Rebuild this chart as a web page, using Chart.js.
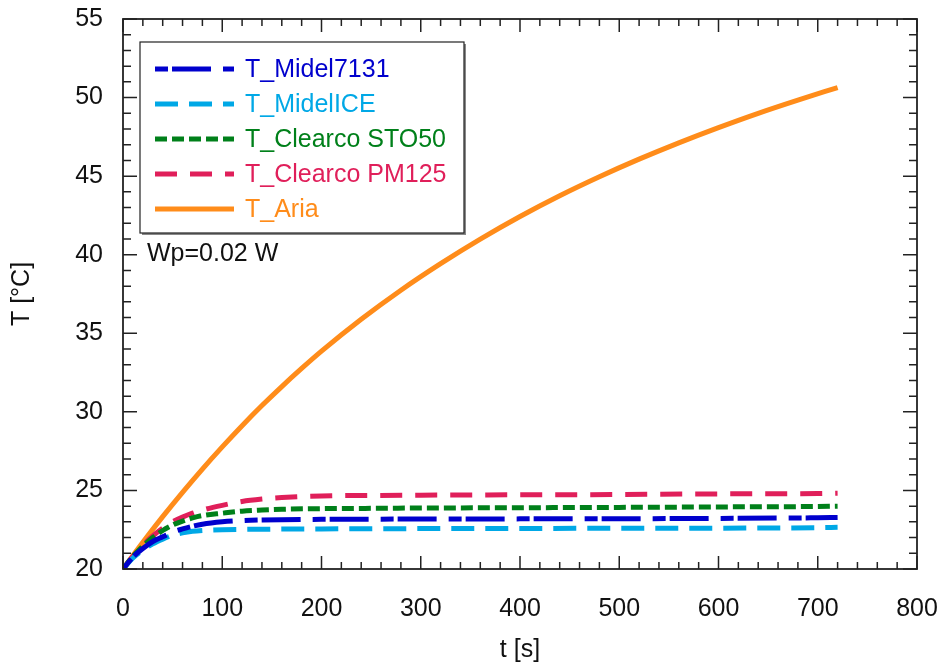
<!DOCTYPE html>
<html>
<head>
<meta charset="utf-8">
<script src="https://cdn.jsdelivr.net/npm/chart.js@4/dist/chart.umd.min.js"></script>
<style>
  html, body { margin: 0; padding: 0; background: #fff; }
  #wrap { width: 944px; height: 666px; }
</style>
</head>
<body>
<div id="wrap"><canvas id="chart" width="944" height="666"></canvas></div>
<script>
// time axis for the four oils (s)
const tOil = [0, 10, 20, 30, 40, 50, 60, 70, 80, 100, 120, 140, 160, 200, 250, 300, 400, 500, 600, 700, 720];
const tMidel7131 = [20, 20.75, 21.3, 21.75, 22.05, 22.35, 22.55, 22.72, 22.85, 23.0, 23.08, 23.12, 23.14, 23.16, 23.17, 23.18, 23.19, 23.2, 23.22, 23.26, 23.28];
const tMidelICE = [20, 20.7, 21.2, 21.6, 21.9, 22.15, 22.3, 22.4, 22.45, 22.5, 22.52, 22.53, 22.54, 22.55, 22.56, 22.57, 22.58, 22.59, 22.6, 22.63, 22.65];
const tSTO50 = [20, 20.8, 21.45, 22.0, 22.45, 22.8, 23.05, 23.25, 23.4, 23.55, 23.68, 23.75, 23.8, 23.84, 23.86, 23.88, 23.9, 23.92, 23.95, 23.98, 24.0];
const tPM125 = [20, 20.8, 21.5, 22.1, 22.6, 23.0, 23.3, 23.55, 23.75, 24.05, 24.3, 24.45, 24.55, 24.65, 24.68, 24.7, 24.72, 24.74, 24.78, 24.8, 24.82];

// air curve
const tAir = [0, 20, 40, 60, 80, 100, 120, 140, 160, 180, 200, 240, 280, 320, 360, 400, 440, 480, 520, 560, 600, 640, 680, 720];
const tAria = [20, 21.7, 23.33, 24.88, 26.36, 27.77, 29.12, 30.4, 31.61, 32.76, 33.86, 35.89, 37.74, 39.43, 40.99, 42.43, 43.75, 44.96, 46.08, 47.12, 48.09, 49.0, 49.84, 50.64];

const xTicks = [0, 100, 200, 300, 400, 500, 600, 700, 800];
const yTicks = [20, 25, 30, 35, 40, 45, 50, 55];

const FONT = "'Liberation Sans', Arial, sans-serif";
const FSIZE = 25;

function pts(xs, ys) {
    return xs.map((x, i) => ({ x: x, y: ys[i] }));
}

const series = [
    { label: "T_Midel7131", data: pts(tOil, tMidel7131), color: "#0000cd", dash: [13, 4, 39, 12] },
    { label: "T_MidelICE", data: pts(tOil, tMidelICE), color: "#00a8e6", dash: [23, 11] },
    { label: "T_Clearco STO50", data: pts(tOil, tSTO50), color: "#00801a", dash: [12, 5] },
    { label: "T_Clearco PM125", data: pts(tOil, tPM125), color: "#e01f5a", dash: [22, 13] },
    { label: "T_Aria", data: pts(tAir, tAria), color: "#ff8c1a", dash: [] }
];

// inner ticks on all four sides + frame, legend box, note
const framePlugin = {
    id: "frame",
    afterDatasetsDraw(chart) {
        const ctx = chart.ctx;
        const a = chart.chartArea;
        const xs = chart.scales.x, ys = chart.scales.y;
        ctx.save();
        ctx.strokeStyle = "#222";
        ctx.lineWidth = 1.5;
        for (let v = 0; v <= 800; v += 20) {
            const px = xs.getPixelForValue(v);
            const len = v % 100 === 0 ? 13 : 7;
            ctx.beginPath();
            ctx.moveTo(px, a.bottom); ctx.lineTo(px, a.bottom - len);
            ctx.moveTo(px, a.top); ctx.lineTo(px, a.top + len);
            ctx.stroke();
        }
        for (let v = 20; v <= 55; v += 1) {
            const py = ys.getPixelForValue(v);
            const len = v % 5 === 0 ? 14 : 8;
            ctx.beginPath();
            ctx.moveTo(a.left, py); ctx.lineTo(a.left + len, py);
            ctx.moveTo(a.right, py); ctx.lineTo(a.right - len, py);
            ctx.stroke();
        }
        ctx.lineWidth = 1.8;
        ctx.strokeRect(a.left, a.top, a.right - a.left, a.bottom - a.top);
        ctx.restore();
    },
    afterDraw(chart) {
        const ctx = chart.ctx;
        ctx.save();
        // legend box
        const bx = 140, by = 42, bw = 324, bh = 191;
        ctx.fillStyle = "#fff";
        ctx.fillRect(bx, by, bw, bh);
        ctx.strokeStyle = "#888";
        ctx.lineWidth = 2;
        ctx.beginPath();
        ctx.moveTo(bx + bw + 1, by + 2); ctx.lineTo(bx + bw + 1, by + bh + 1); ctx.lineTo(bx + 2, by + bh + 1);
        ctx.stroke();
        ctx.strokeStyle = "#222";
        ctx.lineWidth = 1.2;
        ctx.strokeRect(bx, by, bw, bh);
        ctx.font = FSIZE + "px " + FONT;
        ctx.textBaseline = "middle";
        ctx.textAlign = "left";
        chart.data.datasets.forEach((ds, i) => {
            const y = 69 + i * 35;
            ctx.strokeStyle = ds.borderColor;
            ctx.lineWidth = 5;
            ctx.setLineDash(ds.borderDash || []);
            ctx.beginPath();
            ctx.moveTo(155, y); ctx.lineTo(234, y);
            ctx.stroke();
            ctx.setLineDash([]);
            ctx.fillStyle = ds.borderColor;
            ctx.fillText(ds.label, 245, y + 1);
        });
        ctx.fillStyle = "#111";
        ctx.fillText("Wp=0.02 W", 147, 254);
        ctx.restore();
    }
};

const chart = new Chart(document.getElementById("chart"), {
    type: "line",
    data: {
        datasets: series.map(s => ({
            label: s.label,
            data: s.data,
            borderColor: s.color,
            backgroundColor: s.color,
            borderDash: s.dash,
            borderWidth: 5,
            pointRadius: 0,
            fill: false,
            cubicInterpolationMode: "monotone"
        }))
    },
    options: {
        responsive: false,
        animation: false,
        layout: { padding: { left: 0, top: 19, right: 27, bottom: 0 } },
        plugins: { legend: { display: false }, tooltip: { enabled: false } },
        scales: {
            x: {
                type: "linear",
                min: 0, max: 800,
                afterBuildTicks: s => { s.ticks = xTicks.map(v => ({ value: v })); },
                afterFit: s => { s.height = 97; s.paddingLeft = 0; s.paddingRight = 0; },
                grid: { display: false, drawTicks: false },
                border: { display: false },
                ticks: { color: "#111", font: { family: FONT, size: FSIZE }, padding: 25, maxRotation: 0 },
                title: { display: true, text: "t [s]", color: "#111", font: { family: FONT, size: FSIZE }, padding: { top: 0, bottom: 1 } }
            },
            y: {
                min: 20, max: 55,
                afterBuildTicks: s => { s.ticks = yTicks.map(v => ({ value: v })); },
                afterFit: s => { s.width = 123; s.paddingTop = 0; s.paddingBottom = 0; },
                grid: { display: false, drawTicks: false },
                border: { display: false },
                ticks: { color: "#111", font: { family: FONT, size: FSIZE }, padding: 20 },
                title: { display: true, text: "T [°C]", color: "#111", font: { family: FONT, size: FSIZE }, padding: { top: 7, bottom: 0 } }
            }
        }
    },
    plugins: [framePlugin]
});
</script>
</body>
</html>
